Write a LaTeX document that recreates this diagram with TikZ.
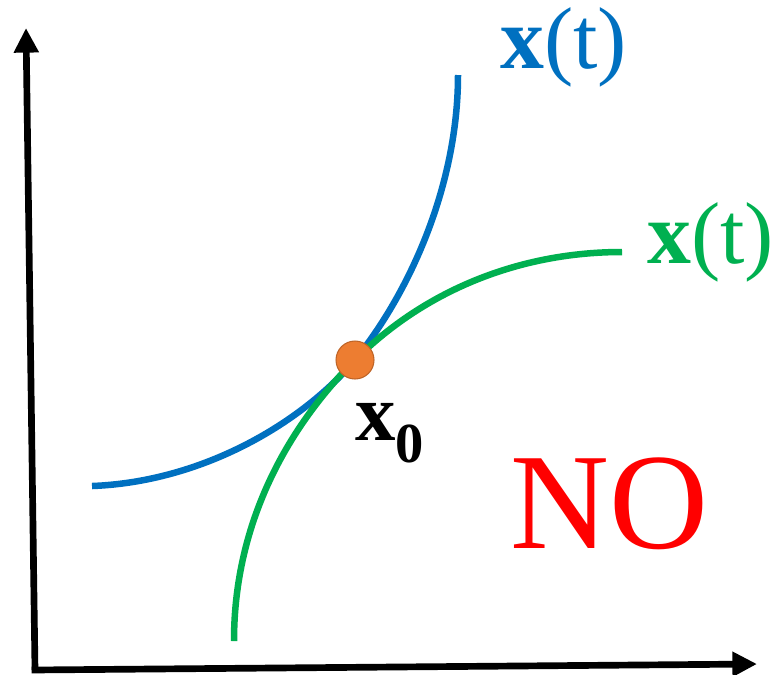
\documentclass[tikz,border=0pt]{standalone}
\usepackage{fontspec}
\setmainfont{Liberation Serif}
\usepackage{tikz}
\usetikzlibrary{arrows.meta, positioning}
\usepackage{xcolor}
\definecolor{curveblue}{HTML}{0070C0}
\definecolor{curvegreen}{HTML}{00B050}
\definecolor{ptorange}{HTML}{ED7D31}

\begin{document}
\begin{tikzpicture}[
  x={(0.02cm,0)}, y={(0,-0.02cm)},
  axis/.style={-{Triangle[length=14pt, width=13.5pt]}, line width=3.8pt},
  curve/.style={line width=3.7pt},
  lbl/.style={font=\fontsize{50}{52}\selectfont, inner sep=0pt, anchor=base west}
]
  \useasboundingbox (0,0) rectangle (780,674);

  % axes
  \coordinate (O) at (35,670);
  \coordinate (ytop) at (26,28);
  \coordinate (xend) at (757,664);
  \draw[axis] (O) -- (ytop);
  \draw[axis] ([xshift=-1.9pt]O) -- (xend);

  % the two solutions
  \coordinate (p) at (355,360);
  \draw[curve, curveblue] (92,486) .. controls (200,482) and (300,425) .. (p)
    .. controls (410,292) and (458,185) .. (458,75);
  \draw[curve, curvegreen] (234,641) .. controls (234,520) and (290,425) .. (p)
    .. controls (425,290) and (520,252) .. (622,252);

  \node[circle, fill=ptorange, draw=ptorange!80!black, line width=0.6pt,
    minimum size=38*0.02cm, inner sep=0pt] (x0pt) at (p) {};

  \node[lbl, text=curveblue] (blab) at (500,68) {\textbf{x}(t)};
  \node[lbl, text=curvegreen] (glab) at (647,263) {\textbf{x}(t)};
  \node[lbl, font=\fontsize{46}{48}\selectfont] (x0lab) at (355,440) {\textbf{x\textsubscript{0}}};
  \node[lbl, text=red, font=\fontsize{78}{80}\selectfont] (no) at (510,548) {NO};
\end{tikzpicture}
\end{document}
